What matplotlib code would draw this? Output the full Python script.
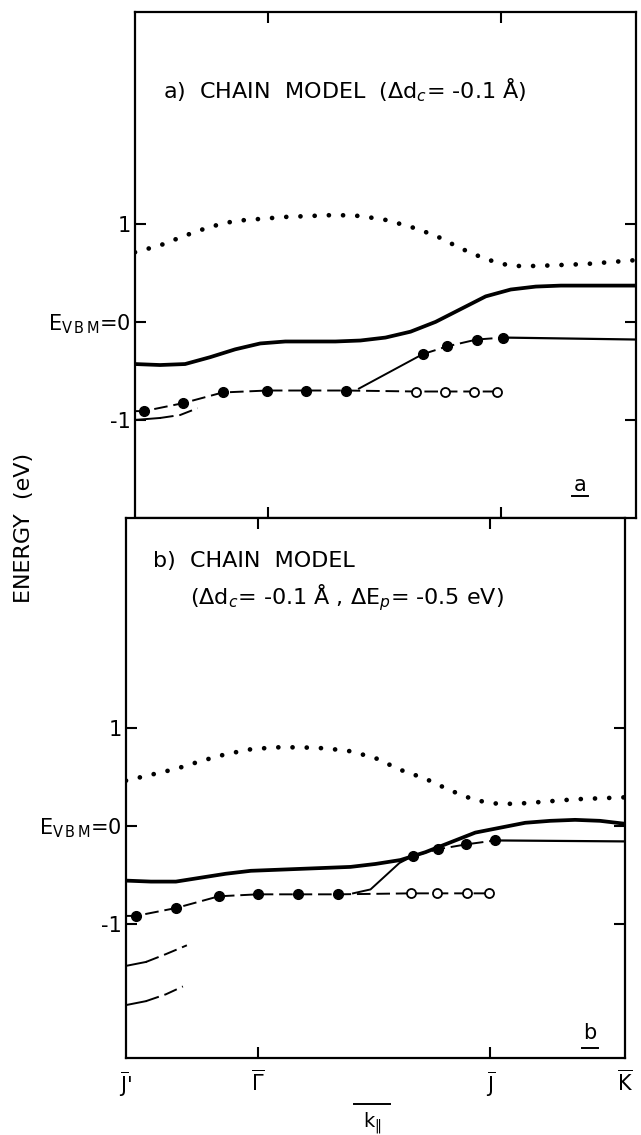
import matplotlib
matplotlib.use("Agg")
import matplotlib.pyplot as plt
from matplotlib.lines import Line2D

plt.rcParams['font.family'] = ['DejaVu Sans']
plt.rcParams['mathtext.fontset'] = 'dejavusans'

# ---------------- data ----------------
# k-point positions (fraction of J'-K path) and labels
kpos = [0.0, 0.265, 0.73, 1.0]
klabels = [r"$\overline{\mathrm{J}}$'", r"$\overline{\Gamma}$", r"$\overline{\mathrm{J}}$", r"$\overline{\mathrm{K}}$"]
ytick_vals = [-1, 0, 1]
ytick_labels = ["-1", r"E$_{\mathrm{V\,B\,M}}$=0", "1"]

# panel a : conduction band (dotted)
x_cb = [0.0, 0.05, 0.1, 0.15, 0.2, 0.25, 0.3, 0.35, 0.4, 0.45, 0.5, 0.55, 0.6, 0.65, 0.7, 0.75, 0.8, 0.85, 0.9, 0.95, 1.0]
e_cb_a = [0.71, 0.78, 0.88, 0.97, 1.03, 1.05, 1.07, 1.08, 1.09, 1.08, 1.04, 0.97, 0.88, 0.75, 0.64, 0.57, 0.57, 0.58, 0.59, 0.61, 0.63]
# panel a : top valence band (thick solid)
x_vb = [0.0, 0.05, 0.1, 0.15, 0.2, 0.25, 0.3, 0.35, 0.4, 0.45, 0.5, 0.55, 0.6, 0.65, 0.7, 0.75, 0.8, 0.85, 0.9, 0.95, 1.0]
e_vb_a = [-0.43, -0.44, -0.43, -0.36, -0.28, -0.22, -0.20, -0.20, -0.20, -0.19, -0.16, -0.10, 0.00, 0.13, 0.26, 0.33, 0.36, 0.37, 0.37, 0.37, 0.37]
# panel a : lower band near J' (solid then dashed)
x_low_a = [0.0, 0.05, 0.09, 0.125]
e_low_a = [-1.00, -0.98, -0.95, -0.88]
# panel a : experimental points
x_fill_a_low = [0.018, 0.095, 0.175, 0.264, 0.342, 0.421]
e_fill_a_low = [-0.91, -0.83, -0.72, -0.70, -0.70, -0.70]
x_fill_a_up = [0.574, 0.623, 0.682, 0.735]
e_fill_a_up = [-0.33, -0.25, -0.18, -0.16]
x_open_a = [0.561, 0.619, 0.676, 0.723]
e_open_a = [-0.71, -0.71, -0.71, -0.71]
x_link_a = [0.447, 0.574]
e_link_a = [-0.68, -0.33]
x_flat_a = [0.735, 1.0]
e_flat_a = [-0.16, -0.18]

# panel b
e_cb_b = [0.46, 0.52, 0.58, 0.66, 0.73, 0.78, 0.80, 0.80, 0.79, 0.76, 0.69, 0.57, 0.48, 0.36, 0.26, 0.22, 0.23, 0.25, 0.27, 0.28, 0.29]
e_vb_b = [-0.56, -0.57, -0.57, -0.53, -0.49, -0.46, -0.45, -0.44, -0.43, -0.42, -0.39, -0.35, -0.27, -0.17, -0.07, -0.02, 0.03, 0.05, 0.06, 0.05, 0.02]
x_low_b1 = [0.0, 0.04, 0.08, 0.122]
e_low_b1 = [-1.43, -1.39, -1.31, -1.22]
x_low_b2 = [0.0, 0.04, 0.08, 0.114]
e_low_b2 = [-1.83, -1.79, -1.72, -1.64]
x_fill_b_low = [0.02, 0.10, 0.186, 0.264, 0.344, 0.425]
e_fill_b_low = [-0.92, -0.84, -0.72, -0.70, -0.70, -0.70]
x_fill_b_up = [0.575, 0.625, 0.682, 0.740]
e_fill_b_up = [-0.31, -0.24, -0.19, -0.15]
x_open_b = [0.571, 0.624, 0.683, 0.728]
e_open_b = [-0.69, -0.69, -0.69, -0.69]
x_link_b = [0.455, 0.49, 0.548, 0.575]
e_link_b = [-0.69, -0.65, -0.38, -0.31]
x_flat_b = [0.740, 1.0]
e_flat_b = [-0.15, -0.16]

# ---------------- figure ----------------
W, H = 641, 1135
fig = plt.figure(figsize=(W / 100, H / 100), dpi=100)

def rect(l, r, t, b):
    return [l / W, 1 - b / H, (r - l) / W, (b - t) / H]

ax_a = fig.add_axes(rect(135, 636, 12, 518))
ax_b = fig.add_axes(rect(126, 625, 518, 1058))

dot_style = dict(color='black', lw=3.4, linestyle=(0, (0.01, 3.0)), dash_capstyle='round')
dash_style = dict(color='black', lw=1.4, linestyle=(0, (7, 3)))

def panel(ax, e_cb, e_vb, lows, fill_low, fill_up, opn, link, flat, ylim):
    ax.plot(x_cb, e_cb, **dot_style)
    ax.plot(x_vb, e_vb, color='black', lw=2.7, solid_capstyle='butt')
    for xl, el in lows:
        ax.plot(xl[:2], el[:2], color='black', lw=1.4)
        ax.plot(xl[1:], el[1:], **dash_style)
    # lower surface band: dashed through filled dots to open circles
    xs = [0.0] + list(fill_low[0]) + list(opn[0])
    es = [fill_low[1][0]] + list(fill_low[1]) + list(opn[1])
    ax.plot(xs, es, **dash_style)
    ax.plot(fill_up[0], fill_up[1], **dash_style)
    ax.plot(link[0], link[1], color='black', lw=1.4)
    ax.plot(flat[0], flat[1], color='black', lw=1.6)
    ax.plot(fill_low[0], fill_low[1], 'o', color='black', ms=7, ls='none', zorder=5)
    ax.plot(fill_up[0], fill_up[1], 'o', color='black', ms=7, ls='none', zorder=5)
    ax.plot(opn[0], opn[1], 'o', mfc='white', mec='black', mew=1.3, ms=6.5, ls='none', zorder=5)
    ax.set_xlim(0, 1)
    ax.set_ylim(*ylim)
    for s in ax.spines.values():
        s.set_linewidth(1.6)
    ax.set_yticks(ytick_vals)
    ax.set_xticks(kpos[1:3])
    ax.tick_params(axis='both', direction='in', length=8, width=1.5,
                   left=True, right=True, top=True, bottom=True)
    ax.tick_params(axis='y', labelsize=15, pad=3)

panel(ax_a, e_cb_a, e_vb_a, [(x_low_a, e_low_a)],
      (x_fill_a_low, e_fill_a_low), (x_fill_a_up, e_fill_a_up),
      (x_open_a, e_open_a), (x_link_a, e_link_a), (x_flat_a, e_flat_a), (-2.0, 3.16))
panel(ax_b, e_cb_b, e_vb_b, [(x_low_b1, e_low_b1), (x_low_b2, e_low_b2)],
      (x_fill_b_low, e_fill_b_low), (x_fill_b_up, e_fill_b_up),
      (x_open_b, e_open_b), (x_link_b, e_link_b), (x_flat_b, e_flat_b), (-2.37, 3.14))

ax_a.set_yticklabels(ytick_labels)
ax_b.set_yticklabels(ytick_labels)
ax_a.tick_params(axis='x', labelbottom=False)
ax_b.tick_params(axis='x', labelbottom=False)

# k-point labels below panel b
for kp, lab in zip(kpos, klabels):
    ax_b.text(kp, -0.022, lab, transform=ax_b.transAxes, ha='center', va='top', fontsize=15)

# k_parallel axis label with bar above it
fig.text(372 / W, 1 - 1127 / H, r"k$_{\Vert}$", ha='center', va='baseline', fontsize=14)
fig.add_artist(Line2D([354 / W, 390 / W], [1 - 1104 / H, 1 - 1104 / H], color='black', lw=1.4))

fig.text(24 / W, 1 - 528 / H, "ENERGY  (eV)", rotation=90, ha='center', va='center', fontsize=16)

ax_a.text(0.055, 0.845, r"a)  CHAIN  MODEL  ($\Delta$d$_c$= -0.1 Å)", transform=ax_a.transAxes,
          ha='left', va='center', fontsize=16)
ax_b.text(0.055, 0.92, "b)  CHAIN  MODEL", transform=ax_b.transAxes,
          ha='left', va='center', fontsize=16)
ax_b.text(0.128, 0.853, r"($\Delta$d$_c$= -0.1 Å , $\Delta$E$_p$= -0.5 eV)", transform=ax_b.transAxes,
          ha='left', va='center', fontsize=16)

# underlined panel letters
for ax, letter, xx, yy, yu in [(ax_a, "a", 0.888, 0.066, 0.043), (ax_b, "b", 0.93, 0.047, 0.018)]:
    ax.text(xx, yy, letter, transform=ax.transAxes, ha='center', va='center', fontsize=15)
    ax.plot([xx - 0.016, xx + 0.016], [yu, yu], transform=ax.transAxes, color='black', lw=1.4)

fig.savefig("out.png", dpi=100)
